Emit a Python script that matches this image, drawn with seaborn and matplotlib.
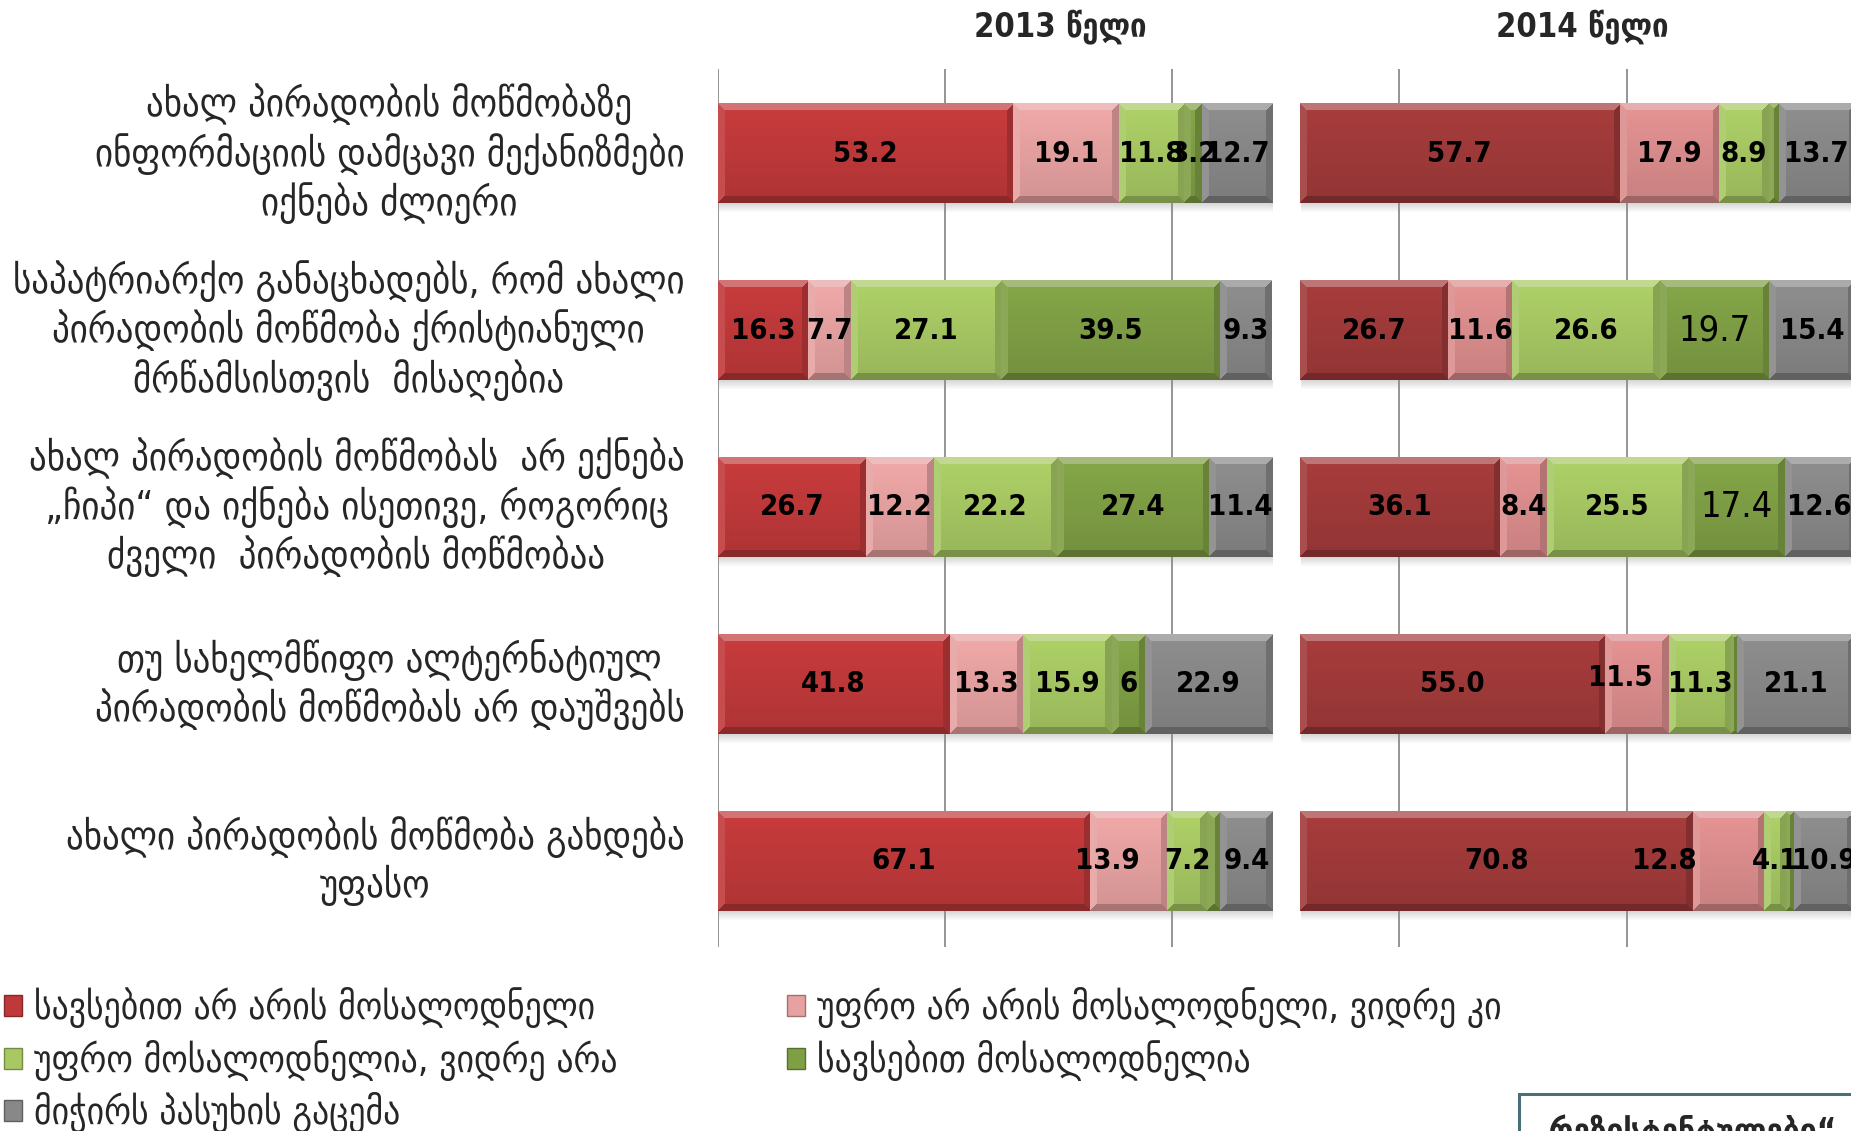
import numpy as np
import matplotlib
matplotlib.use("Agg")
import matplotlib.pyplot as plt
import matplotlib.colors as mcolors
from matplotlib.patches import Patch, Rectangle
import seaborn as sns

# ---- data -------------------------------------------------------------
questions = [
    "ახალ პირადობის მოწმობაზე\nინფორმაციის დამცავი მექანიზმები\nიქნება ძლიერი",
    "საპატრიარქო განაცხადებს, რომ ახალი\nპირადობის მოწმობა ქრისტიანული\nმრწამსისთვის  მისაღებია",
    "ახალ პირადობის მოწმობას  არ ექნება\n„ჩიპი“ და იქნება ისეთივე, როგორიც\nძველი  პირადობის მოწმობაა",
    "თუ სახელმწიფო ალტერნატიულ\nპირადობის მოწმობას არ დაუშვებს",
    "ახალი პირადობის მოწმობა გახდება\nუფასო",
]
years = ["2013 წელი", "2014 წელი"]
responses = [
    "სავსებით არ არის მოსალოდნელი",
    "უფრო არ არის მოსალოდნელი, ვიდრე კი",
    "უფრო მოსალოდნელია, ვიდრე არა",
    "სავსებით მოსალოდნელია",
    "მიჭირს პასუხის გაცემა",
]

very_unlikely_2013 = [53.2, 16.3, 26.7, 41.8, 67.1]
rather_unlikely_2013 = [19.1, 7.7, 12.2, 13.3, 13.9]
rather_likely_2013 = [11.8, 27.1, 22.2, 15.9, 7.2]
very_likely_2013 = [3.2, 39.5, 27.4, 6.0, 2.4]
hard_to_say_2013 = [12.7, 9.3, 11.4, 22.9, 9.4]

very_unlikely_2014 = [57.7, 26.7, 36.1, 55.0, 70.8]
rather_unlikely_2014 = [17.9, 11.6, 8.4, 11.5, 12.8]
rather_likely_2014 = [8.9, 26.6, 25.5, 11.3, 4.1]
very_likely_2014 = [1.8, 19.7, 17.4, 1.1, 1.4]
hard_to_say_2014 = [13.7, 15.4, 12.6, 21.1, 10.9]

series_by_year = [
    [very_unlikely_2013, rather_unlikely_2013, rather_likely_2013, very_likely_2013, hard_to_say_2013],
    [very_unlikely_2014, rather_unlikely_2014, rather_likely_2014, very_likely_2014, hard_to_say_2014],
]

# ---- styling ----------------------------------------------------------
colors_by_year = [
    ["#c0393a", "#e6a2a1", "#a7c863", "#7f9f45", "#888888"],
    ["#a13a3a", "#dc8d8d", "#a7c863", "#7f9f45", "#888888"],
]
year_offset = [0.0, 104.9]          # where each year's 100% bar starts
grid_step = 40.96

# labels left unprinted (too thin) and custom formats / nudges  (year, row, segment)
unlabeled = {(0, 4, 3), (1, 0, 3), (1, 3, 3), (1, 4, 3)}
int_format = {(0, 3, 3)}
nudges = {(0, 4, 1): (-3.8, 0.0), (1, 4, 1): (-11.5, 0.0), (1, 3, 1): (-2.9, -0.035)}
light_large = {(1, 1, 3), (1, 2, 3)}

sns.set_style("white")
plt.rcParams["font.family"] = ["DejaVu Sans"]
COND_FAM = ["DejaVu Sans Condensed", "DejaVu Sans"]
COND = dict(family=COND_FAM, fontstretch="condensed")

W, H = 1851, 1131
fig = plt.figure(figsize=(W / 100, H / 100), dpi=100)
ax_left, ax_top, ax_bottom = 717.7, 68.5, 947.0
ax = fig.add_axes([ax_left / W, 1 - ax_bottom / H, 1 - ax_left / W, (ax_bottom - ax_top) / H])

# ---- stacked bars -----------------------------------------------------
bar_records = []
for yi, series in enumerate(series_by_year):
    left = np.full(len(questions), year_offset[yi])
    for si, vals in enumerate(series):
        n0 = len(ax.patches)
        sns.barplot(x=vals, y=questions, left=left, orient="h", color=colors_by_year[yi][si],
                    width=0.56, errorbar=None, saturation=1, linewidth=0, ax=ax, zorder=3)
        for ri, p in enumerate(ax.patches[n0:]):
            bar_records.append((yi, ri, si, vals[ri], p))
        left = left + np.asarray(vals)

x_max = (W - ax_left) / ((1078 - 608) * W / 1568) * 100
ax.set_xlim(0, x_max)
ax.set_ylim(4.484, -0.481)
ax.set_xticks(np.arange(5) * grid_step)
ax.set_xticklabels([])
ax.xaxis.grid(True, color="#8c8c8c", linewidth=1.3, zorder=0)
ax.yaxis.grid(False)
ax.set_axisbelow(True)
for s in ax.spines.values():
    s.set_visible(False)
ax.set_xlabel("")
ax.set_ylabel("")
ax.tick_params(axis="both", length=0)
ax.tick_params(axis="y", pad=24)
for lbl in ax.get_yticklabels():
    lbl.set_multialignment("center")
    lbl.set_verticalalignment("center")
    lbl.set_fontsize(28)
    lbl.set_linespacing(1.22)
    lbl.set_fontstretch("condensed")
    lbl.set_family(COND_FAM)


def px_size(x0, y0, w, h):
    a = ax.transData.transform((x0, y0))
    b = ax.transData.transform((x0 + w, y0 + h))
    return abs(b[0] - a[0]), abs(b[1] - a[1])


def bevel(rgb, wpx, hpx, bev=7.0):
    hh, ww = max(int(round(hpx)), 2), max(int(round(wpx)), 2)
    yy, xx = np.mgrid[0:hh, 0:ww] + 0.5
    dt, db, dl, dr = yy, hh - yy, xx, ww - xx
    img = rgb[None, None, :] * (1.05 - 0.14 * yy / hh)[..., None]
    dmin = np.minimum(np.minimum(dt, db), np.minimum(dl, dr))
    edge = dmin < bev
    top = edge & (dt == dmin)
    bot = edge & (db == dmin) & ~top
    lef = edge & (dl == dmin) & ~top & ~bot
    rig = edge & ~top & ~bot & ~lef
    img[top] = rgb + (1 - rgb) * 0.30
    img[bot] = rgb * 0.72
    img[lef] = rgb + (1 - rgb) * 0.10
    img[rig] = rgb * 0.82
    return np.clip(img, 0, 1)


# soft shadow under every year block
for yi in range(2):
    for ri in range(len(questions)):
        p = [r[4] for r in bar_records if r[0] == yi and r[1] == ri][0]
        y_bot = p.get_y() + p.get_height()
        shade = np.zeros((12, 2, 4))
        shade[..., :3] = 0.55
        shade[..., 3] = np.linspace(0.35, 0.0, 12)[:, None]
        ax.imshow(shade, extent=(year_offset[yi] + 0.3, year_offset[yi] + 100, y_bot + 0.055, y_bot),
                  aspect="auto", interpolation="bilinear", zorder=2)

for yi, ri, si, v, p in bar_records:
    x0, y0, w, h = p.get_x(), p.get_y(), p.get_width(), p.get_height()
    wpx, hpx = px_size(x0, y0, w, h)
    img = bevel(np.array(mcolors.to_rgb(p.get_facecolor())), wpx, hpx)
    ax.imshow(img, extent=(x0, x0 + w, y0 + h, y0), aspect="auto", interpolation="nearest", zorder=3.5)

# value labels
for yi, ri, si, v, p in bar_records:
    key = (yi, ri, si)
    if key in unlabeled:
        continue
    txt = f"{v:.0f}" if key in int_format else f"{v:.1f}"
    dx, dy = nudges.get(key, (0.0, 0.0))
    cx = p.get_x() + p.get_width() / 2 + dx
    cy = p.get_y() + p.get_height() / 2 + dy
    if key in light_large:
        ax.text(cx, cy, txt, ha="center", va="center", fontsize=26, color="black", zorder=5, **COND)
    else:
        ax.text(cx, cy, txt, ha="center", va="center", fontsize=21, fontweight="bold",
                color="black", zorder=5, **COND)

ax.set_xlim(0, x_max)
ax.set_ylim(4.484, -0.481)

# year titles
for label, xc in zip(years, [61.7, 155.8]):
    ax.text(xc, -0.72, label, ha="center", va="center", fontsize=23.5, fontweight="bold",
            transform=ax.transData, clip_on=False, **COND)

# legend (two columns placed separately so rows line up like a grid)
def handles(idx):
    return [Patch(facecolor=colors_by_year[0][i], edgecolor=mcolors.to_hex(
        np.array(mcolors.to_rgb(colors_by_year[0][i])) * 0.7), linewidth=1) for i in idx]

leg_kw = dict(frameon=False, handlelength=0.48, handleheight=0.48,
              handletextpad=0.32, labelspacing=0.31, borderpad=0, borderaxespad=0,
              loc="upper left", prop=dict(family=COND_FAM, stretch="condensed", size=27))
col1 = [0, 2, 4]
col2 = [1, 3]
fig.legend(handles(col1), [responses[i] for i in col1], bbox_to_anchor=(0.002, 1 - 987 / H), **leg_kw)
fig.legend(handles(col2), [responses[i] for i in col2], bbox_to_anchor=(787 / W, 1 - 987 / H), **leg_kw)

# partially visible note box in the lower right corner
fig.patches.append(Rectangle((1519 / W, -0.05), 0.3, 0.05 + 37 / H, transform=fig.transFigure,
                             facecolor="white", edgecolor="#4a6f7a", linewidth=2.2, zorder=1))
fig.text(1530 / W, 1 - 1115 / H, "„რეზისტენტულები“", ha="left", va="top", fontsize=24,
         fontweight="bold", zorder=2, **COND)

fig.savefig("out.png", dpi=100, facecolor="white")
